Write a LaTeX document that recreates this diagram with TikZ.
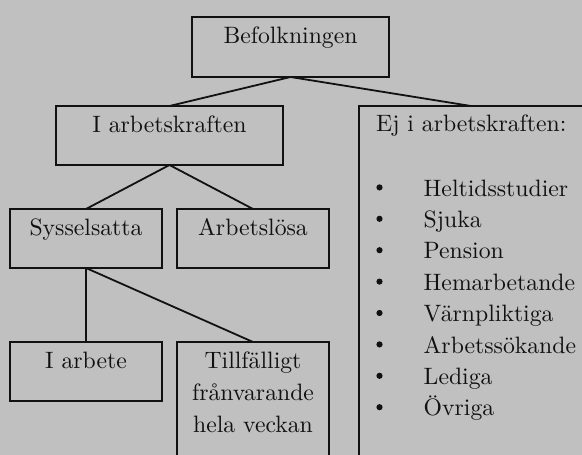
\documentclass[tikz,border=0pt]{standalone}
\usepackage{fontspec}
\setmainfont{lmroman10-regular}[Extension=.otf]
\definecolor{bgc}{RGB}{192,192,192}
\definecolor{ink}{RGB}{17,17,17}
\begin{document}
\begin{tikzpicture}[x=1pt,y=-1pt,
  box/.style={draw=ink, line width=1.8pt, rectangle, inner sep=0pt, outer sep=0pt},
  link/.style={draw=ink, line width=1.8pt},
  lbl/.style={anchor=base, inner sep=0pt, text=ink, font=\fontsize{23.7}{32}\selectfont},
  lblw/.style={lbl, anchor=base west},
  dot/.style={circle, fill=ink, inner sep=0pt, minimum size=6.2pt}]
\fill[bgc] (0,0) rectangle (582,455);
\useasboundingbox (0,0) rectangle (582,455);
\clip (0,0) rectangle (582,455);

% boxes
\node[box, minimum width=197pt, minimum height=60pt] (bef) at (290.5,47) {};
\node[box, minimum width=227pt, minimum height=59pt] (ark) at (169.5,135.5) {};
\node[box, minimum width=246pt, minimum height=364pt] (ej) at (482,288) {};
\node[box, minimum width=152pt, minimum height=59pt] (sys) at (86,238.5) {};
\node[box, minimum width=152pt, minimum height=59pt] (arb) at (253,238.5) {};
\node[box, minimum width=152pt, minimum height=59pt] (iarb) at (86,371.5) {};
\node[box, minimum width=152pt, minimum height=138pt] (till) at (253,411) {};
\coordinate (ejtop) at (471,106);

% connectors
\draw[link] (bef.south) -- (ark.north);
\draw[link] (bef.south) -- (ejtop);
\draw[link] (ark.south) -- (sys.north);
\draw[link] (ark.south) -- (arb.north);
\draw[link] (sys.south) -- (iarb.north);
\draw[link] (sys.south) -- (till.north);

% labels
\node[lbl] (tbef) at (290.5,43.5) {Befolkningen};
\node[lbl] (tark) at (169.5,132.7) {I arbetskraften};
\node[lblw] (tej) at (376,131.7) {Ej i arbetskraften:};
\node[lbl] (tsys) at (86,235.7) {Sysselsatta};
\node[lbl] (tarb) at (253,235.7) {Arbetslösa};
\node[lbl] (tiarb) at (86,368) {I arbete};
\node[lbl] (till1) at (253,368) {Tillfälligt};
\node[lbl] (till2) at (253,400) {frånvarande};
\node[lbl] (till3) at (253,432) {hela veckan};

% list
\foreach \t [count=\i from 0] in {Heltidsstudier,Sjuka,Pension,Hemarbetande,Värnpliktiga,Arbetssökande,Lediga,Övriga}{
  \pgfmathsetmacro{\yb}{196+31.4*\i}
  \node[lblw] (item\i) at (423.5,\yb) {\t};
  \node[dot] (bul\i) at (379.5,\yb-8.6) {};
}
\end{tikzpicture}
\end{document}
